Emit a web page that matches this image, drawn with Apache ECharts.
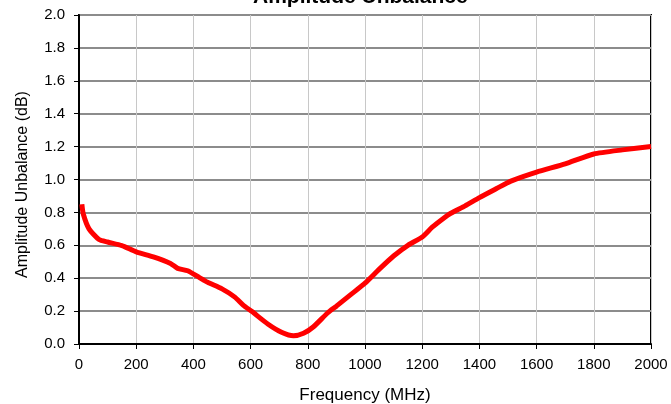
<!DOCTYPE html>
<html>
<head>
<meta charset="utf-8">
<script src="https://cdn.jsdelivr.net/npm/echarts@6/dist/echarts.min.js"></script>
<style>
  html, body { margin: 0; padding: 0; background: #fff; }
  #chart { width: 671px; height: 404px; }
</style>
</head>
<body>
<div id="chart"></div>
<script>
// frequency (MHz) and amplitude unbalance (dB)
var freq = [10, 15, 35, 70, 100, 150, 200, 260, 320, 345, 380, 420, 450, 500, 545, 575, 605, 660, 710, 750,
    785, 820, 870, 900, 950, 1000, 1050, 1100, 1150, 1200, 1235, 1275, 1300, 1350, 1400, 1460, 1510, 1600,
    1700, 1800, 1900, 2000];
var unbalance = [0.85, 0.79, 0.70, 0.635, 0.62, 0.598, 0.56, 0.53, 0.49, 0.46, 0.445, 0.405, 0.375, 0.335, 0.285,
    0.235, 0.197, 0.122, 0.07, 0.05, 0.065, 0.105, 0.19, 0.23, 0.30, 0.37, 0.455, 0.535, 0.60, 0.65, 0.71,
    0.765, 0.795, 0.84, 0.89, 0.945, 0.99, 1.045, 1.095, 1.155, 1.18, 1.2];

var points = [];
for (var i = 0; i < freq.length; i++) {
    points.push([freq[i], unbalance[i]]);
}

var chart = echarts.init(document.getElementById('chart'));
var font = 'Liberation Sans, Arial, sans-serif';

option = {
    animation: false,
    title: {
        text: 'Amplitude Unbalance',
        left: 248,
        top: -18,
        textStyle: {
            fontFamily: font,
            fontSize: 21,
            fontWeight: 'bold',
            color: '#000'
        }
    },
    grid: {
        left: 79,
        right: 20,
        top: 15,
        bottom: 60,
        outerBoundsMode: 'none',
        show: true,
        borderColor: '#000',
        borderWidth: 2
    },
    xAxis: {
        type: 'value',
        min: 0,
        max: 2000,
        interval: 200,
        name: 'Frequency (MHz)',
        nameLocation: 'middle',
        nameGap: 43,
        nameTextStyle: { fontFamily: font, fontSize: 17, color: '#000' },
        axisLine: { show: true, lineStyle: { color: '#000', width: 2 } },
        axisTick: { show: true, length: 5, lineStyle: { color: '#000' } },
        axisLabel: {
            fontFamily: font,
            fontSize: 15,
            color: '#000',
            margin: 13,
            formatter: function (v) { return String(v); }
        },
        splitLine: { show: true, lineStyle: { color: '#c8c8c8', width: 1 } }
    },
    yAxis: {
        type: 'value',
        min: 0,
        max: 2,
        interval: 0.2,
        name: 'Amplitude Unbalance (dB)',
        nameLocation: 'middle',
        nameGap: 48,
        nameTextStyle: { fontFamily: font, fontSize: 16, color: '#000', padding: [0, 10, 0, 0] },
        axisLine: { show: true, lineStyle: { color: '#000', width: 2 } },
        axisTick: { show: true, length: 5, lineStyle: { color: '#000' } },
        axisLabel: {
            fontFamily: font,
            fontSize: 15,
            color: '#000',
            margin: 14,
            formatter: function (v) { return v.toFixed(1); }
        },
        splitLine: { show: true, lineStyle: { color: '#8c8c8c', width: 2 } }
    },
    series: [
        {
            name: 'Amplitude Unbalance',
            type: 'line',
            data: points,
            smooth: 0.2,
            symbol: 'none',
            lineStyle: { color: '#ff0000', width: 5 }
        }
    ]
};

chart.setOption(option);
</script>
</body>
</html>
